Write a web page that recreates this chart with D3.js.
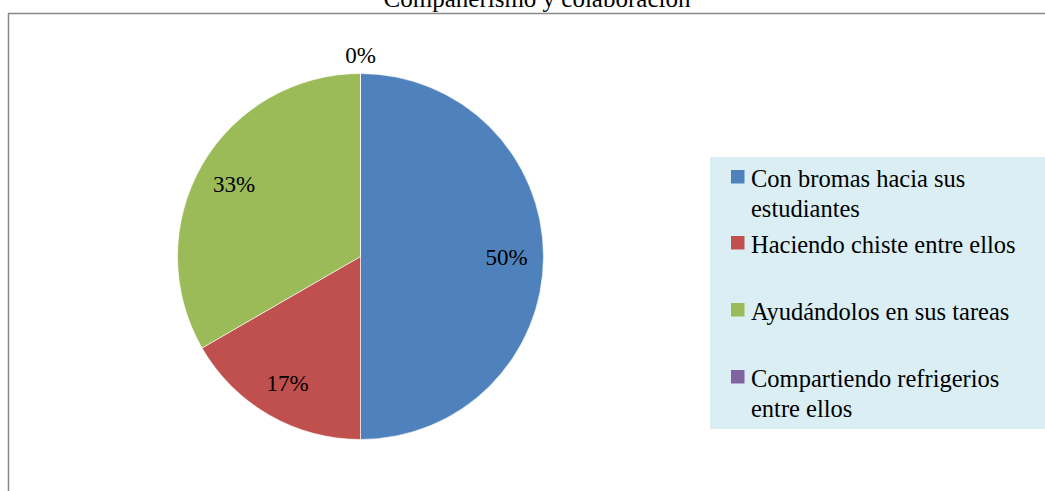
<!DOCTYPE html>
<html>
<head>
<meta charset="utf-8">
<script src="https://cdn.jsdelivr.net/npm/d3@7"></script>
<style>
  body { margin: 0; background: #fff; }
  svg text, svg tspan { font-family: "Liberation Serif", "Times New Roman", serif !important; }
</style>
</head>
<body>
<svg id="chart" width="1045" height="491"></svg>
<script>
// data
var categories = ["Con bromas hacia sus estudiantes", "Haciendo chiste entre ellos",
                  "Ayudándolos en sus tareas", "Compartiendo refrigerios entre ellos"];
var legendLines = [["Con bromas hacia sus", "estudiantes"], ["Haciendo chiste entre ellos"],
                   ["Ayudándolos en sus tareas"], ["Compartiendo refrigerios", "entre ellos"]];
var counts = [3, 1, 2, 0];
var colors = ["#4F81BD", "#C0504D", "#9BBB59", "#8064A2"];
var title = "Compañerismo y colaboración";

var width = 1045, height = 491;
var cx = 360.5, cy = 256.5, radius = 183;
var serif = "'Liberation Serif', 'Times New Roman', serif";

var svg = d3.select("#chart");

// frame (chart area clipped by the page)
svg.append("line").attr("x1", 8).attr("x2", width).attr("y1", 13.5).attr("y2", 13.5)
   .attr("stroke", "#898989").attr("stroke-width", 1.5);
svg.append("line").attr("x1", 8.5).attr("x2", 8.5).attr("y1", 13).attr("y2", height)
   .attr("stroke", "#898989").attr("stroke-width", 1.5);

svg.append("text")
   .attr("x", 537).attr("y", 7)
   .attr("text-anchor", "middle")
   .attr("font-size", 25)
   .style("font-family", serif, "important")
   .text(title);

var total = d3.sum(counts);
var pie = d3.pie().sort(null).value(function(d) { return d; });
var arcs = pie(counts);
var arc = d3.arc().innerRadius(0).outerRadius(radius);
var labelArc = d3.arc().innerRadius(146).outerRadius(146);
var outerArc = d3.arc().innerRadius(202).outerRadius(202);

var g = svg.append("g").attr("transform", "translate(" + cx + "," + cy + ")");

g.selectAll("path.slice")
  .data(arcs)
  .enter().append("path")
  .attr("class", "slice")
  .attr("d", arc)
  .attr("fill", function(d, i) { return colors[i]; })
  .attr("stroke", "#fff")
  .attr("stroke-width", 0.6);

g.selectAll("text.pct")
  .data(arcs)
  .enter().append("text")
  .attr("class", "pct")
  .attr("transform", function(d) {
      var c = d.value > 0 ? labelArc.centroid(d) : outerArc.centroid(d);
      return "translate(" + c + ")";
  })
  .attr("text-anchor", "middle")
  .attr("dy", "0.35em")
  .attr("font-size", 23)
  .style("font-family", serif, "important")
  .attr("fill", "#000")
  .text(function(d) { return Math.round(d.value / total * 100) + "%"; });

// legend
var legend = svg.append("g");
legend.append("rect")
  .attr("x", 710).attr("y", 157)
  .attr("width", width - 710).attr("height", 272)
  .attr("fill", "#DAEEF3");

var rowTop = [170, 236, 303, 370];
var items = legend.selectAll("g.item")
  .data(categories)
  .enter().append("g")
  .attr("class", "item")
  .attr("transform", function(d, i) { return "translate(731," + rowTop[i] + ")"; });

items.append("rect")
  .attr("width", 13.5).attr("height", 13.5)
  .attr("fill", function(d, i) { return colors[i]; });

items.append("text")
  .attr("x", 20)
  .attr("y", 16.5)
  .attr("font-size", 24.5)
  .style("font-family", serif, "important")
  .selectAll("tspan")
  .data(function(d, i) { return legendLines[i]; })
  .enter().append("tspan")
  .attr("x", 20)
  .attr("dy", function(d, j) { return j === 0 ? 0 : 30; })
  .text(function(d) { return d; });
</script>
</body>
</html>
